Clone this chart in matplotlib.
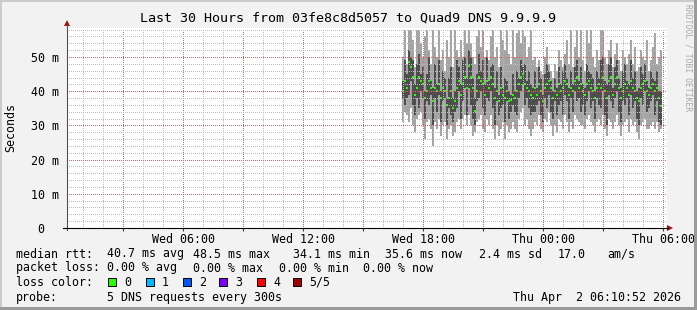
import numpy as np
import matplotlib.pyplot as plt
from matplotlib.patches import Rectangle, Polygon
from matplotlib.lines import Line2D

# --- data (ms), one value per 6 minute step, time in hours since Wed 00:00 ---
start_h = 16.95
step_h = 0.1

median = [40, 43, 41, 48.5, 47, 44, 39, 41, 44, 43, 42, 38, 40, 43, 41, 37, 41, 40, 42, 38, 41, 40, 36, 38, 40, 35, 37, 41, 43, 39, 42, 44, 41,
          47.5, 44, 41, 34.1, 40, 44, 43, 42, 39, 43, 41, 44, 42, 38, 40, 37, 41, 39, 38, 40, 37, 37.5, 39, 38, 40, 42, 44, 45, 42, 41, 40, 39, 38,
          41, 39, 42, 40, 37, 41, 42, 43, 41, 38, 40, 39, 42, 40, 41, 43, 42, 39, 41, 40, 43, 44, 41, 42, 40, 39, 42, 43, 41, 40, 38, 41, 42,
          41, 44, 40, 38, 43, 44, 39, 42, 44, 41, 38, 40, 42, 41, 39, 43, 41, 40, 38, 37, 41, 42, 43, 40, 39, 41, 42, 40, 41, 38, 35.6]
ping_max = [50, 58, 48, 58, 58, 55, 47, 58, 58, 54, 50, 56, 58, 52, 48, 58, 53, 50, 58, 49, 52, 46, 55, 50, 58, 47, 58, 52, 50, 55, 50, 58, 54,
            58, 54, 50, 48, 56, 58, 53, 58, 50, 52, 49, 56, 58, 50, 53, 47, 58, 55, 52, 58, 51, 48, 58, 50, 57, 58, 54, 58, 56, 50, 53, 58, 49,
            50, 47, 49, 46, 45, 50, 53, 48, 46, 44, 48, 46, 52, 49, 47, 51, 55, 48, 58, 47, 53, 58, 50, 58, 49, 46, 58, 54, 58, 50, 47, 52, 49,
            58, 58, 50, 48, 52, 55, 47, 51, 54, 49, 46, 52, 50, 48, 51, 55, 48, 53, 46, 47, 52, 50, 49, 55, 46, 49, 53, 57, 48, 50, 52]
ping_hi = [43, 49, 45, 52, 50, 49, 42, 48, 51, 45, 47, 40, 45, 50, 43, 41, 48, 42, 49, 40, 46, 44, 38, 44, 47, 38, 40, 49, 47, 42, 49, 50, 44,
           52, 50, 44, 38, 45, 51, 46, 49, 42, 50, 43, 47, 48, 41, 46, 39, 47, 41, 44, 43, 40, 39, 45, 40, 46, 44, 49, 47, 48, 43, 46, 42, 41,
           46, 41, 47, 44, 39, 45, 48, 46, 43, 40, 44, 41, 47, 42, 46, 48, 44, 41, 46, 42, 47, 49, 43, 47, 42, 41, 48, 46, 45, 44, 40, 46, 44,
           49, 50, 43, 42, 48, 50, 41, 47, 49, 44, 41, 46, 48, 43, 42, 49, 44, 46, 40, 41, 47, 45, 48, 43, 41, 46, 44, 43, 46, 40, 40]
ping_lo = [38, 36, 38, 39, 43, 36, 33, 38, 35, 40, 38, 32, 37, 36, 39, 30, 38, 34, 39, 31, 37, 38, 30, 35, 33, 31, 34, 35, 40, 32, 37, 41, 33,
           41, 36, 32, 30, 37, 38, 40, 35, 33, 38, 37, 40, 35, 30, 37, 33, 35, 36, 31, 37, 32, 34, 36, 34, 33, 38, 40, 42, 36, 38, 35, 33, 34,
           34, 36, 37, 33, 31, 38, 35, 39, 34, 32, 37, 33, 36, 37, 33, 39, 37, 32, 38, 34, 40, 37, 38, 34, 36, 33, 37, 40, 35, 37, 32, 38, 36,
           35, 40, 33, 30, 39, 37, 35, 38, 40, 34, 31, 37, 36, 38, 33, 39, 35, 37, 32, 30, 38, 36, 40, 34, 35, 37, 39, 33, 37, 31, 30]
ping_min = [31, 34, 33, 31, 35, 30, 28, 32, 33, 34, 30, 26, 31, 32, 29, 24, 31, 29, 32, 27, 30, 31, 26, 29, 30, 27, 28, 31, 32, 29, 32, 33, 30,
            33, 30, 27, 28, 31, 32, 33, 29, 28, 32, 30, 33, 29, 26, 30, 27, 29, 31, 26, 30, 28, 29, 31, 29, 28, 32, 34, 35, 30, 32, 29, 27, 29,
            31, 30, 33, 29, 28, 32, 31, 34, 30, 27, 30, 28, 32, 31, 29, 33, 31, 28, 31, 29, 33, 32, 31, 30, 30, 29, 32, 33, 31, 30, 28, 31, 32,
            30, 33, 29, 27, 32, 31, 29, 31, 33, 30, 27, 30, 31, 32, 28, 32, 30, 31, 28, 26, 30, 31, 32, 29, 29, 30, 31, 29, 31, 28, 29]

y_ticks = [0, 10, 20, 30, 40, 50]
y_labels = ["0  ", "10 m", "20 m", "30 m", "40 m", "50 m"]
x_ticks = [6, 12, 18, 24, 30]
x_labels = ["Wed 06:00", "Wed 12:00", "Wed 18:00", "Thu 00:00", "Thu 06:00"]
loss_labels = ["0", "1", "2", "3", "4", "5/5"]
loss_colors = ["#26ff00", "#00b8ff", "#0059ff", "#7e00ff", "#ff0000", "#a00000"]

W, H = 697, 310
MONO = "DejaVu Sans Mono"
BACK = "#f2f2f2"
MGRID = "#e46464"
GRID = "#bcbcbc"
ARROW = "#a01010"


def px(x, y):
    return x / W, 1 - y / H


fig = plt.figure(figsize=(W / 100, H / 100), dpi=100, facecolor=BACK)
ax = fig.add_axes([67 / W, 1 - 228 / H, 600 / W, 200 / H])
ax.set_facecolor("white")

x0 = 0.181
ymax = 58.48
ax.set_xlim(x0, x0 + 30)
ax.set_ylim(0, ymax)

t = start_h + np.arange(len(median)) * step_h
med = np.array(median)
# smoke: outer pings light, inner pings dark, median as thin coloured block
ax.bar(t, np.array(ping_max) - np.array(ping_min), bottom=ping_min, width=step_h,
       align="edge", color="#a4a4a4", linewidth=0, zorder=2)
ax.bar(t, np.array(ping_hi) - np.array(ping_lo), bottom=ping_lo, width=step_h,
       align="edge", color="#4e4e4e", linewidth=0, zorder=3)
ax.bar(t, 0.6, bottom=med - 0.3, width=step_h, align="edge",
       color=loss_colors[0], linewidth=0, zorder=4)

# dotted grid over the data: one pixel dot every second pixel
dot_y = np.arange(0, ymax, 2 * ymax / 200)
dot_x = np.arange(x0, x0 + 30, 0.1)
dot = dict(ls="none", marker="s", ms=0.72, mew=0, antialiased=False, zorder=5)
for h in range(1, 31):
    c = MGRID if h % 3 == 0 else GRID
    ax.plot(np.full_like(dot_y, h), dot_y, color=c, **dot)
for v in range(2, 59, 2):
    c = MGRID if v % 10 == 0 else GRID
    ax.plot(dot_x, np.full_like(dot_x, v), color=c, **dot)

for s in ax.spines.values():
    s.set_visible(False)

ax.set_yticks(y_ticks)
ax.set_yticklabels(y_labels, fontfamily=MONO, fontsize=8.4)
ax.tick_params(axis="y", length=0, pad=6)
ax.set_xticks(np.arange(3, 31, 3))
ax.set_xticklabels([x_labels[x_ticks.index(h)] if h in x_ticks else "" for h in range(3, 31, 3)],
                   fontfamily=MONO, fontsize=8.4)
ax.tick_params(axis="x", length=2, width=0.8, color="#404040", pad=1.5)

# axes with arrowheads
fig.add_artist(Line2D([px(67, 0)[0]] * 2, [px(0, 230)[1], px(0, 25)[1]], color="#505050", lw=0.8))
fig.add_artist(Line2D([px(63, 0)[0], px(668, 0)[0]], [px(0, 228)[1]] * 2, color="#000000", lw=0.8))
fig.add_artist(Polygon([px(67, 20), px(64, 26), px(70, 26)], closed=True, color=ARROW, lw=0))
fig.add_artist(Polygon([px(673, 228), px(667, 225), px(667, 231)], closed=True, color=ARROW, lw=0))

# titles
fig.text(*px(348, 18), "Last 30 Hours from 03fe8c8d5057 to Quad9 DNS 9.9.9.9",
         ha="center", va="center", fontfamily=MONO, fontsize=9.6)
fig.text(*px(11, 128), "Seconds", rotation=90, ha="center", va="center",
         fontfamily=MONO, fontsize=8.4)
fig.text(*px(688, 58), "RRDTOOL / TOBI OETIKER", rotation=270, ha="center", va="center",
         fontfamily=MONO, fontsize=5.8, color="#a8a8a8")

# legend lines
legend_items = [
    (254, [(16, "median rtt:"), (107, "40.7 ms avg"), (193, "48.5 ms max"), (293, "34.1 ms min"),
           (385, "35.6 ms now"), (479, "2.4 ms sd"), (558, "17.0"), (607, "am/s")]),
    (268, [(16, "packet loss:"), (107, "0.00 % avg"), (193, "0.00 % max"), (279, "0.00 % min"),
           (363, "0.00 % now")]),
    (282, [(16, "loss color:")]),
    (297, [(16, "probe:"), (107, "5 DNS requests every 300s"), (513, "Thu Apr  2 06:10:52 2026")]),
]
for yy, items in legend_items:
    for xx, s in items:
        fig.text(*px(xx, yy), s, ha="left", va="center", fontfamily=MONO, fontsize=8.4)

box_x = [108, 146, 183, 219, 257, 293]
for bx, lab, col in zip(box_x, loss_labels, loss_colors):
    fig.add_artist(Rectangle(px(bx, 286), 8 / W, 8 / H, facecolor=col, edgecolor="black", lw=0.7))
    fig.text(*px(bx + 16, 282), lab, ha="left", va="center", fontfamily=MONO, fontsize=8.4)

# 3d-ish frame border
fig.add_artist(Rectangle((0, 0), 2 / W, 1, facecolor="#cbcbcb", lw=0))
fig.add_artist(Rectangle((0, 1 - 2 / H), 1, 2 / H, facecolor="#cbcbcb", lw=0))
fig.add_artist(Rectangle((1 - 3 / W, 0), 3 / W, 1, facecolor="#9a9a9a", lw=0))
fig.add_artist(Rectangle((0, 0), 1, 3 / H, facecolor="#9a9a9a", lw=0))

fig.savefig("out.png", dpi=100, facecolor=BACK)
